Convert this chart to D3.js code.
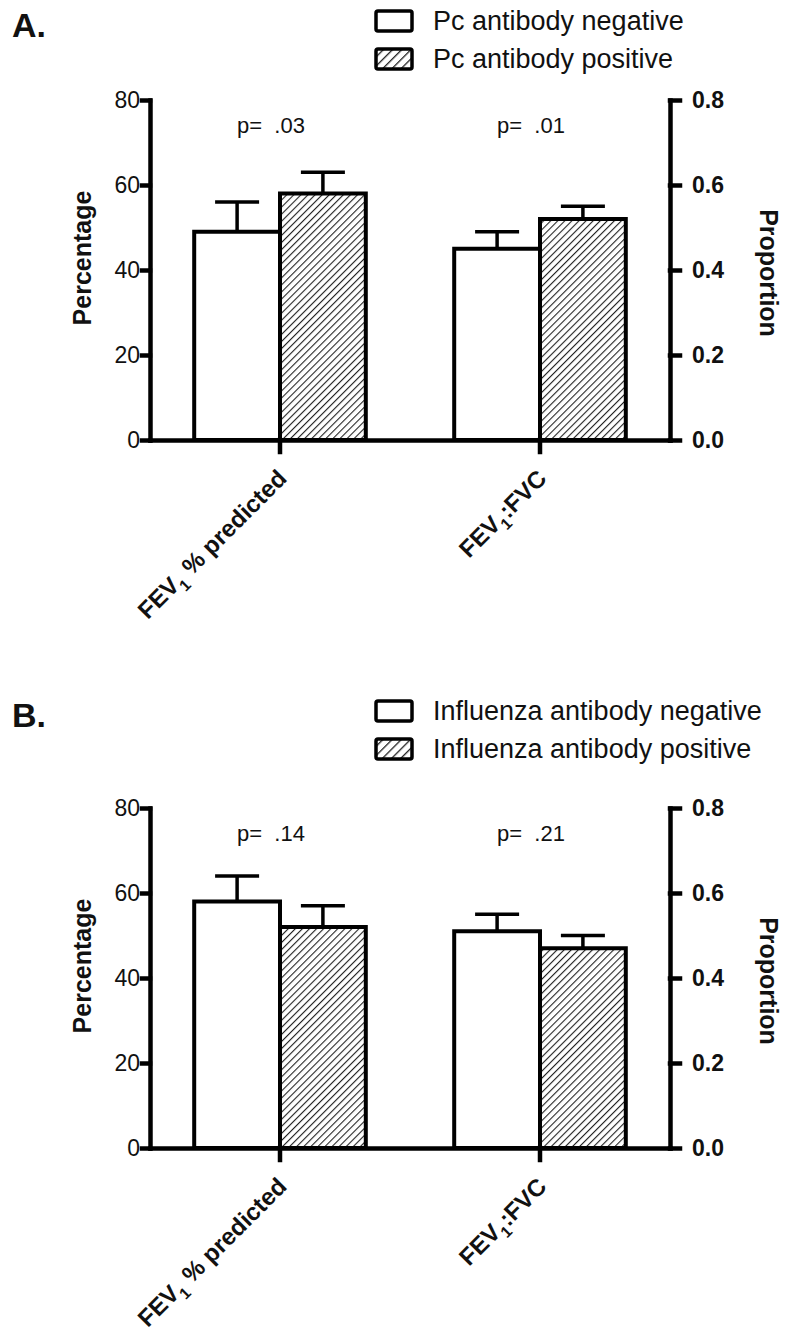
<!doctype html>
<html>
<head>
    <meta charset="UTF-8">
    <title>antibody lung function</title>
    <script src="https://d3js.org/d3.v7.min.js"></script>
    <style>
        body{ margin:0; background:#fff; }
        text{ font-family:"Liberation Sans", Arial, sans-serif; fill:#111; }
    </style>
</head>
<body>
   <script>
       // data
       var categories = ["FEV1 % predicted", "FEV1:FVC"];
       var leftTicks = [0, 20, 40, 60, 80];
       var rightTicks = [0, 0.2, 0.4, 0.6, 0.8];

       var labelA = "A.";
       var legendA = ["Pc antibody negative", "Pc antibody positive"];
       var negA = [49, 45];
       var posA = [58, 52];
       var negErrA = [7, 4];
       var posErrA = [5, 3];
       var pA = [".03", ".01"];

       var labelB = "B.";
       var legendB = ["Influenza antibody negative", "Influenza antibody positive"];
       var negB = [58, 51];
       var posB = [52, 47];
       var negErrB = [6, 4];
       var posErrB = [5, 3];
       var pB = [".14", ".21"];

       var svg = d3.select("body").append("svg")
            .attr("width", 785)
            .attr("height", 1332);

       var defs = svg.append("defs");
       function hatch(id, size, sw){
           var p = defs.append("pattern")
                .attr("id", id)
                .attr("patternUnits", "userSpaceOnUse")
                .attr("width", size).attr("height", size)
                .attr("patternTransform", "rotate(45)");
           p.append("rect").attr("width", size).attr("height", size).attr("fill", "#fff");
           p.append("line").attr("x1", 0).attr("y1", 0).attr("x2", 0).attr("y2", size)
                .attr("stroke", "#222").attr("stroke-width", sw);
       }
       hatch("hatch", 5, 2.2);
       hatch("hatchLegend", 6.5, 2.6);

       function drawPanel(letter, legend, neg, pos, negErr, posErr, pvals, legendTop, plotTop){
           var g = svg.append("g");

           g.append("text")
            .attr("x", 12).attr("y", legendTop + 37)
            .attr("font-size", 34).attr("font-weight", "bold")
            .text(letter);

           // legend
           legend.forEach(function(name, i){
               var cy = legendTop + 21 + 38*i;
               g.append("rect")
                .attr("x", 376).attr("y", cy - 10)
                .attr("width", 36).attr("height", 20)
                .attr("rx", 2)
                .attr("fill", i == 0 ? "#fff" : "url(#hatchLegend)")
                .attr("stroke", "#000").attr("stroke-width", 3.5);
               g.append("text")
                .attr("x", 433).attr("y", cy + 9)
                .attr("font-size", 27)
                .text(name);
           });

           var x = d3.scaleBand().domain(categories).range([150, 670]).padding(0);
           var y = d3.scaleLinear().domain([0, 80]).range([plotTop + 340, plotTop]);
           var yR = d3.scaleLinear().domain([0, 0.8]).range([plotTop + 340, plotTop]);
           var half = x.bandwidth() * 0.33;

           var rows = categories.map(function(c, i){
               return [
                   {cat:c, k:0, v:neg[i], e:negErr[i]},
                   {cat:c, k:1, v:pos[i], e:posErr[i]}
               ];
           });
           var bars = [].concat.apply([], rows);

           function bx(d){ return x(d.cat) + x.bandwidth()/2 + (d.k == 0 ? -half : 0); }

           // error bars (upper only)
           var eb = g.selectAll(".err").data(bars).enter().append("g")
                .attr("stroke", "#000").attr("stroke-width", 3.5);
           eb.append("line")
            .attr("x1", function(d){ return bx(d) + half/2; })
            .attr("x2", function(d){ return bx(d) + half/2; })
            .attr("y1", function(d){ return y(d.v); })
            .attr("y2", function(d){ return y(d.v + d.e); });
           eb.append("line")
            .attr("x1", function(d){ return bx(d) + half/2 - 22; })
            .attr("x2", function(d){ return bx(d) + half/2 + 22; })
            .attr("y1", function(d){ return y(d.v + d.e); })
            .attr("y2", function(d){ return y(d.v + d.e); });

           g.selectAll(".bar").data(bars).enter().append("rect")
            .attr("x", bx)
            .attr("y", function(d){ return y(d.v); })
            .attr("width", half)
            .attr("height", function(d){ return y(0) - y(d.v); })
            .attr("fill", function(d){ return d.k == 0 ? "#fff" : "url(#hatch)"; })
            .attr("stroke", "#000").attr("stroke-width", 4);

           // p values
           g.selectAll(".pv").data(pvals).enter().append("text")
            .attr("x", function(d, i){ return x(categories[i]) + x.bandwidth()/2 - 9; })
            .attr("y", plotTop + 33)
            .attr("text-anchor", "middle")
            .attr("font-size", 22)
            .style("white-space", "pre")
            .text(function(d){ return "p=  " + d; });

           // axes
           var gl = g.append("g").attr("transform", "translate(150,0)")
                .call(d3.axisLeft(y).tickValues(leftTicks).tickSize(8).tickSizeOuter(0).tickPadding(2));
           gl.selectAll("text").attr("font-size", 23).style("font-family", "Liberation Sans, Arial").attr("fill", "#111");

           var gr = g.append("g").attr("transform", "translate(670,0)")
                .call(d3.axisRight(yR).tickValues(rightTicks).tickFormat(d3.format(".1f"))
                      .tickSize(10).tickSizeOuter(0).tickPadding(12));
           gr.selectAll("text").attr("font-size", 23).attr("font-weight", "bold")
                .style("font-family", "Liberation Sans, Arial").attr("fill", "#111");

           var gb = g.append("g").attr("transform", "translate(0," + (plotTop + 340) + ")")
                .call(d3.axisBottom(x).tickSize(12).tickSizeOuter(0));
           gb.selectAll(".tick text").remove();
           var lab = gb.selectAll(".tick").append("text")
                .attr("text-anchor", "end")
                .attr("transform", "translate(8,40) rotate(-45)")
                .attr("font-size", 24).attr("font-weight", "bold")
                .style("font-family", "Liberation Sans, Arial")
                .attr("fill", "#111");
           lab.append("tspan").text("FEV");
           lab.append("tspan").attr("font-size", 16).attr("dy", 7).text("1");
           lab.append("tspan").attr("dy", -7).style("white-space", "pre")
                .text(function(d){ return d.replace("FEV1", ""); });

           g.selectAll(".domain, .tick line")
            .attr("stroke", "#000").attr("stroke-width", 4.5).attr("stroke-linecap", "square");

           g.append("text")
            .attr("transform", "translate(91," + (plotTop + 158) + ") rotate(-90)")
            .attr("text-anchor", "middle")
            .attr("font-size", 25).attr("font-weight", "bold")
            .text("Percentage");
           g.append("text")
            .attr("transform", "translate(760," + (plotTop + 173) + ") rotate(90)")
            .attr("text-anchor", "middle")
            .attr("font-size", 25).attr("font-weight", "bold")
            .text("Proportion");
       }

       drawPanel(labelA, legendA, negA, posA, negErrA, posErrA, pA, 0, 100);
       drawPanel(labelB, legendB, negB, posB, negErrB, posErrB, pB, 690, 808);
   </script>
</body>
</html>
